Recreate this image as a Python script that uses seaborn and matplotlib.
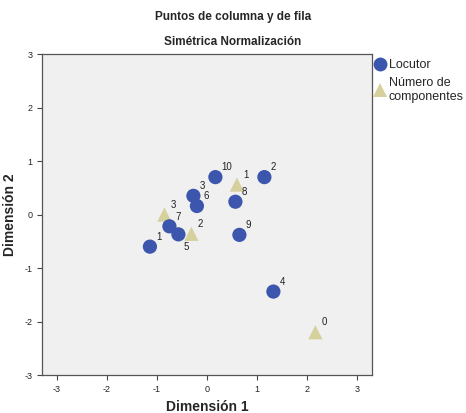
import pandas as pd
import matplotlib
matplotlib.use('Agg')
import matplotlib.pyplot as plt
import seaborn as sns

# puntos de fila (Locutor)
loc_labels = ['1', '10', '2', '3', '6', '8', '7', '5', '9', '4']
loc_x = [-1.14, 0.17, 1.15, -0.27, -0.20, 0.57, -0.75, -0.57, 0.65, 1.33]
loc_y = [-0.60, 0.70, 0.70, 0.35, 0.16, 0.24, -0.22, -0.37, -0.38, -1.44]

# puntos de columna (Numero de componentes)
comp_labels = ['3', '1', '2', '0']
comp_x = [-0.85, 0.60, -0.31, 2.17]
comp_y = [0.00, 0.56, -0.36, -2.20]

grupos = ['Locutor', 'Número de componentes']

df = pd.concat([
    pd.DataFrame({'x': comp_x, 'y': comp_y, 'etiqueta': comp_labels, 'grupo': grupos[1]}),
    pd.DataFrame({'x': loc_x, 'y': loc_y, 'etiqueta': loc_labels, 'grupo': grupos[0]}),
], ignore_index=True)

sns.set_style('ticks')
plt.rcParams['font.family'] = ['Liberation Sans', 'DejaVu Sans']
plt.rcParams['axes.unicode_minus'] = False

fig = plt.figure(figsize=(4.66, 4.13), dpi=100)
ax = fig.add_axes([0.090, 0.092, 0.708, 0.777])
ax.set_facecolor('#f0f0f0')

colores = {'Locutor': '#3d56ad', 'Número de componentes': '#d6d09c'}
marcas = {'Locutor': 'o', 'Número de componentes': '^'}
sns.scatterplot(data=df, x='x', y='y', hue='grupo', style='grupo', hue_order=grupos,
                style_order=grupos, palette=colores, markers=marcas, s=105,
                linewidth=0, ax=ax, legend=False)

for _, r in df.iterrows():
    if r['grupo'] == 'Locutor' and r['etiqueta'] == '5':
        off = (3.5, -9)
    else:
        off = (4.5, 7)
    ax.annotate(r['etiqueta'], (r['x'], r['y']), xytext=off, textcoords='offset points',
                ha='left', va='center', fontsize=7, color='#222222')

ax.set_xlim(-3.3, 3.3)
ax.set_ylim(-3, 3)
ax.set_xticks([-3, -2, -1, 0, 1, 2, 3])
ax.set_yticks([-3, -2, -1, 0, 1, 2, 3])
ax.tick_params(labelsize=6.5, length=3.5, width=0.8, colors='#444444', labelcolor='#222222')
for s in ax.spines.values():
    s.set_color('#555555')
    s.set_linewidth(0.9)
    s.set_visible(True)

ax.set_xlabel('Dimensión 1', fontsize=10, fontweight='bold')
ax.set_ylabel('Dimensión 2', fontsize=10, fontweight='bold')
ax.xaxis.set_label_coords(0.5, -0.077)
ax.yaxis.set_label_coords(-0.077, 0.5)

fig.text(0.5, 0.958, 'Puntos de columna y de fila', ha='center', va='center',
         fontsize=8.5, fontweight='bold')
fig.text(0.5, 0.898, 'Simétrica Normalización', ha='center', va='center',
         fontsize=8.5, fontweight='bold')

handles = [
    plt.Line2D([], [], marker='o', linestyle='', markersize=10,
               markerfacecolor=colores['Locutor'], markeredgewidth=0),
    plt.Line2D([], [], marker='^', linestyle='', markersize=10,
               markerfacecolor=colores['Número de componentes'], markeredgewidth=0),
]
ax.legend(handles, ['Locutor', 'Número de\ncomponentes'], loc='upper left',
          bbox_to_anchor=(0.99, 1.0), frameon=False, fontsize=9,
          handletextpad=0.1, handlelength=1.1, borderaxespad=0, labelspacing=0.5)

fig.savefig('out.png', dpi=100)
